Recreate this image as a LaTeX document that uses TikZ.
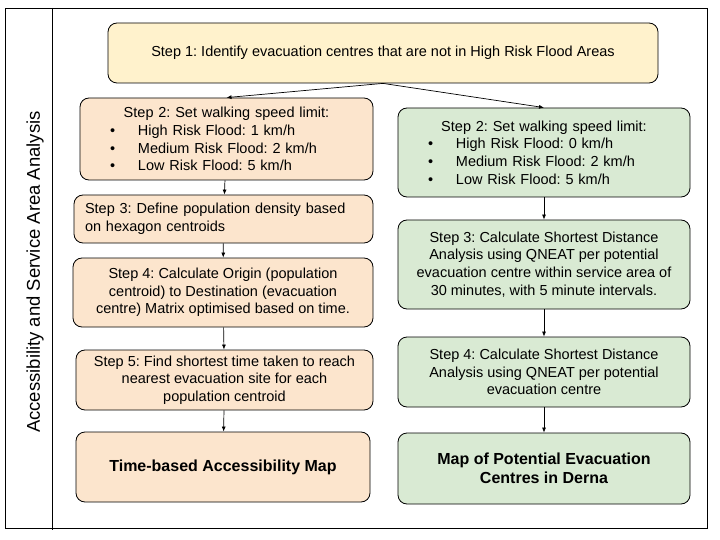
\documentclass[tikz,border=0pt]{standalone}
\usepackage{fontspec}
\setmainfont{Liberation Sans}
\usetikzlibrary{arrows.meta}

\definecolor{stepyellow}{HTML}{FFF2CC}
\definecolor{steppeach}{HTML}{FCE5CD}
\definecolor{stepgreen}{HTML}{D9EAD3}

\newcommand{\bul}[1]{\hspace*{30pt}\makebox[28pt][l]{\textbullet}#1}

\begin{document}
\frenchspacing
\begin{tikzpicture}[
  x=1pt, y=-1pt,
  font=\fontsize{14.5}{17.7}\selectfont,
  box/.style={draw, line width=0.8pt, rounded corners=9pt, align=center, inner sep=0pt},
  yel/.style={box, fill=stepyellow},
  peach/.style={box, fill=steppeach},
  green/.style={box, fill=stepgreen},
  res/.style={font=\fontsize{16}{19}\selectfont\bfseries},
  ar/.style={-{Latex[length=5pt,width=4pt]}, line width=0.7pt}]

\useasboundingbox (0,0) rectangle (720,540);

\def\lx{224}   % left  column centre
\def\rx{544}   % right column centre

% frame and side label
\draw[line width=0.8pt] (5,8) rectangle (707,528);
\draw[line width=0.8pt] (52,8) -- (52,530);
\node[rotate=90, font=\fontsize{18.5}{21}\selectfont] (lbl) at (35,272)
  {Accessibility and Service Area Analysis};

% top
\node[yel, minimum width=550pt, minimum height=60pt] (s1) at (383,53)
  {Step 1: Identify evacuation centres that are not in High Risk Flood Areas};

% left (time-based accessibility) column
\node[peach, minimum width=293pt, minimum height=82pt, text width=293pt, align=left]
  (l2) at (226.5,139)
  {\makebox[\linewidth]{Step 2: Set walking speed limit:}\\
   \bul{High Risk Flood: 1 km/h}\\
   \bul{Medium Risk Flood: 2 km/h}\\
   \bul{Low Risk Flood: 5 km/h}};
\node[peach, minimum width=299pt, minimum height=48pt, text width=277pt, align=left]
  (l3) at (223.5,219)
  {Step 3: Define population density based\\on hexagon centroids};
\node[peach, minimum width=300pt, minimum height=69pt] (l4) at (223,292.5)
  {Step 4: Calculate Origin (population\\centroid) to Destination (evacuation\\centre) Matrix optimised based on time.};
\node[peach, minimum width=297pt, minimum height=60pt] (l5) at (224.5,380)
  {Step 5: Find shortest time taken to reach\\nearest evacuation site for each\\population centroid};
\node[peach, res, minimum width=294pt, minimum height=70pt] (lmap) at (223,467)
  {Time-based Accessibility Map};

% right (service area) column
\node[green, minimum width=292pt, minimum height=89pt, text width=292pt, align=left]
  (r2) at (\rx,152.5)
  {\makebox[\linewidth]{Step 2: Set walking speed limit:}\\
   \bul{High Risk Flood: 0 km/h}\\
   \bul{Medium Risk Flood: 2 km/h}\\
   \bul{Low Risk Flood: 5 km/h}};
\node[green, minimum width=292pt, minimum height=89pt] (r3) at (\rx,264.5)
  {Step 3: Calculate Shortest Distance\\Analysis using QNEAT per potential\\evacuation centre within service area of\\30 minutes, with 5 minute intervals.};
\node[green, minimum width=292pt, minimum height=70pt] (r4) at (\rx,372)
  {Step 4: Calculate Shortest Distance\\Analysis using QNEAT per potential\\evacuation centre};
\node[green, res, minimum width=292pt, minimum height=71pt] (rmap) at (\rx,468.5)
  {Map of Potential Evacuation\\Centres in Derna};

\draw[ar] (s1.south) -- (l2.north);
\draw[ar] (s1.south) -- (r2.north);
\draw[ar] (l2) -- (l3);
\draw[ar] (l3) -- (l4);
\draw[ar] (l4) -- (l5);
\draw[ar] (l5) -- (lmap);
\draw[ar] (r2) -- (r3);
\draw[ar] (r3) -- (r4);
\draw[ar] (r4) -- (rmap);
\end{tikzpicture}
\end{document}
